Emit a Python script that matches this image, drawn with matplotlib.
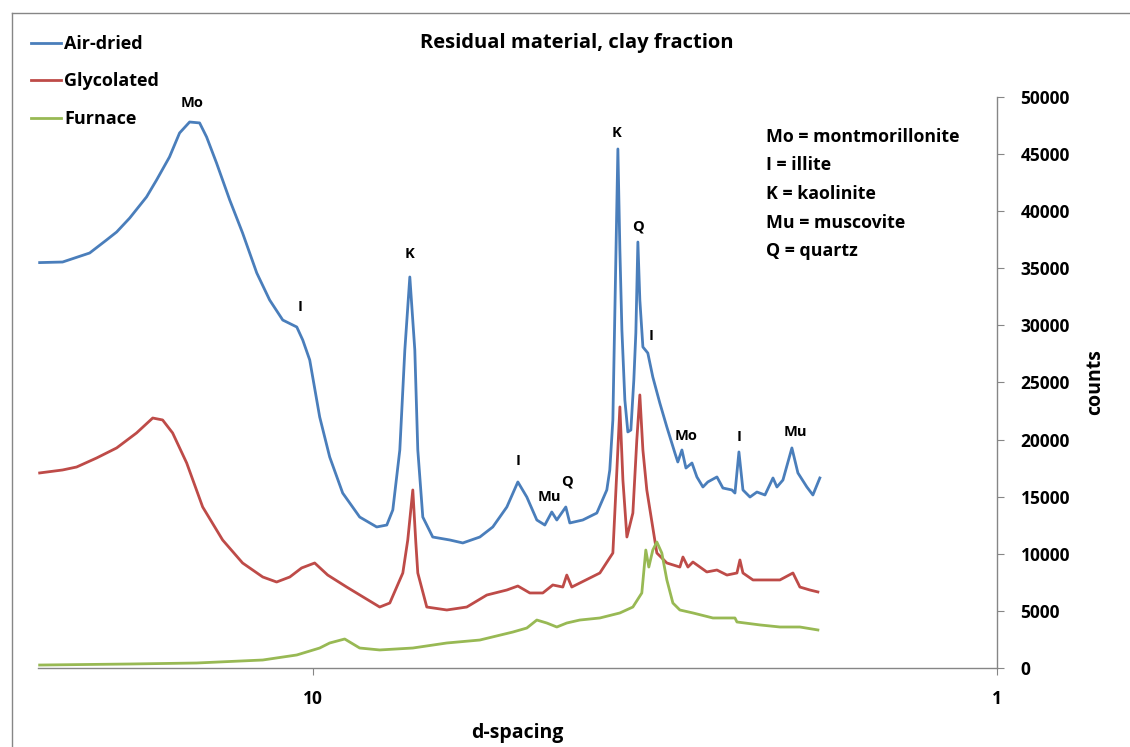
import matplotlib.pyplot as plt
from matplotlib.lines import Line2D

# d-spacing (Angstrom) and counts
air_d = [25.06, 23.20, 21.18, 20.01, 19.34, 18.51, 17.49, 16.91, 16.19, 15.65,
         15.13, 14.63, 14.29, 13.82, 13.22, 12.66, 12.07, 11.56, 11.06, 10.55,
         10.34, 10.10, 9.767, 9.444, 9.040, 8.537, 8.062, 7.793, 7.637, 7.459,
         7.334, 7.212, 7.092, 7.021, 6.904, 6.677, 6.304, 6.034, 5.698, 5.455,
         5.203, 5.014, 4.865, 4.704, 4.579, 4.473, 4.398, 4.267, 4.210, 4.030,
         3.844, 3.717, 3.680, 3.642, 3.606, 3.581, 3.557, 3.533, 3.498, 3.463,
         3.428, 3.394, 3.371, 3.348, 3.326, 3.292, 3.238, 3.184, 3.110, 3.037,
         2.956, 2.927, 2.887, 2.848, 2.791, 2.745, 2.690, 2.646, 2.566, 2.515,
         2.440, 2.415, 2.383, 2.351, 2.296, 2.243, 2.183, 2.125, 2.097, 2.055,
         1.994, 1.954, 1.896, 1.858, 1.815]
air_counts = [35500, 35550, 36340, 37480, 38180, 39400, 41250, 42730, 44750, 46850,
              47810, 47730, 46500, 44220, 40980, 38090, 34590, 32230, 30470, 29860,
              28720, 26970, 21980, 18480, 15320, 13220, 12350, 12520, 13840, 19090,
              27850, 34240, 27850, 19090, 13220, 11470, 11210, 10950, 11470, 12350,
              14100, 16290, 14970, 12960, 12520, 13660, 12960, 14100, 12700, 12960,
              13570, 15590, 17340, 21720, 35730, 45450, 36600, 29600, 23470, 20670,
              20840, 25220, 29340, 37300, 32230, 28110, 27580, 25480, 23210, 21100,
              18830, 18040, 19090, 17510, 17950, 16730, 15850, 16290, 16730, 15760,
              15590, 15320, 18920, 15590, 14970, 15410, 15150, 16640, 15850, 16460,
              19270, 17080, 15850, 15150, 16640]

gly_d = [25.06, 23.20, 22.13, 20.69, 19.34, 18.09, 17.13, 16.57, 16.02, 15.28,
         14.48, 13.54, 12.66, 11.83, 11.29, 10.80, 10.38, 9.933, 9.507, 8.919,
         7.981, 7.715, 7.384, 7.262, 7.140, 7.068, 7.021, 6.812, 6.368, 5.954,
         5.566, 5.203, 5.014, 4.816, 4.610, 4.458, 4.310, 4.253, 4.182, 4.071,
         3.805, 3.642, 3.593, 3.557, 3.521, 3.474, 3.405, 3.360, 3.326, 3.292,
         3.249, 3.141, 3.037, 2.907, 2.877, 2.829, 2.782, 2.655, 2.566, 2.481,
         2.399, 2.375, 2.351, 2.273, 2.169, 2.076, 1.987, 1.941, 1.877, 1.827]
gly_counts = [17080, 17340, 17600, 18390, 19270, 20580, 21890, 21720, 20580, 17950,
              14100, 11210, 9195, 7970, 7530, 7970, 8760, 9195, 8140, 7090,
              5340, 5690, 8320, 11210, 15590, 11000, 8320, 5340, 5080, 5340,
              6390, 6830, 7180, 6570, 6570, 7270, 7090, 8140, 7090, 7440,
              8320, 10070, 17340, 22860, 16460, 11470, 13570, 19970, 23910, 19090,
              15590, 10070, 9195, 8840, 9720, 8840, 9280, 8410, 8580, 8140,
              8320, 9460, 8320, 7710, 7710, 7710, 8320, 7090, 6830, 6660]

fur_d = [25.06, 18.51, 14.78, 11.83, 10.55, 9.767, 9.444, 8.979, 8.537, 7.981,
         7.140, 6.368, 5.698, 5.099, 4.865, 4.704, 4.549, 4.398, 4.253, 4.071,
         3.805, 3.557, 3.405, 3.304, 3.260, 3.227, 3.184, 3.141, 3.089, 3.037,
         2.976, 2.907, 2.782, 2.601, 2.415, 2.399, 2.220, 2.076, 1.941, 1.827]
fur_counts = [260, 350, 438, 700, 1140, 1750, 2190, 2540, 1750, 1580,
              1750, 2190, 2450, 3150, 3500, 4200, 3940, 3590, 3940, 4200,
              4380, 4820, 5340, 6570, 10330, 8840, 10330, 11030, 10070, 7710,
              5690, 5080, 4820, 4380, 4380, 4030, 3770, 3590, 3590, 3330]

# peak labels
peak_labels = ['Mo', 'I', 'K', 'I', 'Mu', 'Q', 'K', 'Q', 'I', 'Mo', 'I', 'Mu']
peak_d = [15.03, 10.45, 7.212, 5.014, 4.503, 4.253, 3.593, 3.348, 3.205, 2.848, 2.383, 1.974]
peak_y = [49480, 31610, 36250, 18130, 14970, 16290, 46850, 38620, 29070, 20320, 20230, 20670]

key_text = ('Mo = montmorillonite\nI = illite\nK = kaolinite\n'
            'Mu = muscovite\nQ = quartz')

plt.rcParams['font.family'] = ['Open Sans', 'DejaVu Sans']
plt.rcParams['font.weight'] = 'bold'

fig = plt.figure(figsize=(11.3, 7.47), dpi=100)
ax = fig.add_axes([38/1130, 1-668/747, 959/1130, 571/747])

ax.plot(air_d, air_counts, color='#4A7EBB', lw=2, label='Air-dried')
ax.plot(gly_d, gly_counts, color='#BE4B48', lw=2, label='Glycolated')
ax.plot(fur_d, fur_counts, color='#98B954', lw=2, label='Furnace')

ax.set_xscale('log')
ax.set_xlim(25.2, 1)
ax.set_ylim(0, 50000)
ax.set_xticks([10, 1])
ax.set_xticklabels(['10', '1'])
ax.minorticks_off()
ax.set_yticks(range(0, 50001, 5000))

ax.yaxis.tick_right()
ax.yaxis.set_label_position('right')
for s in ['left', 'top']:
    ax.spines[s].set_visible(False)
for s in ['bottom', 'right']:
    ax.spines[s].set_color('#868686')
    ax.spines[s].set_linewidth(1)
ax.tick_params(axis='x', length=5, color='#868686', pad=11, labelsize=12.5)
ax.tick_params(axis='y', length=5, color='#868686', pad=12, labelsize=12.5)

ax.set_xlabel('d-spacing', fontsize=14, fontweight='bold')
ax.xaxis.set_label_coords(0.5, -0.096)
ax.set_ylabel('counts', fontsize=14, fontweight='bold')
ax.yaxis.set_label_coords(1.092, 0.5)

for lab, d, y in zip(peak_labels, peak_d, peak_y):
    ax.text(d, y, lab, ha='center', va='center', fontsize=10.5, fontweight='bold')

fig.text(766/1130, 1-128/747, key_text, ha='left', va='top', fontsize=12.8,
         fontweight='bold', linespacing=1.75)

fig.text(577/1130, 1-43/747, 'Residual material, clay fraction', ha='center',
         va='center', fontsize=14.5, fontweight='bold')

ax.legend(loc='upper left', bbox_to_anchor=(31/1130, 1-35/747),
          bbox_transform=fig.transFigure, frameon=False, fontsize=13,
          handlelength=1.65, handletextpad=0.2, labelspacing=1.08,
          borderpad=0, borderaxespad=0)

# outer chart border (left and top edges visible)
fig.add_artist(Line2D([12/1130, 12/1130], [0, 1-13/747], color='#868686', lw=1))
fig.add_artist(Line2D([12/1130, 1], [1-13/747, 1-13/747], color='#868686', lw=1))

plt.savefig('out.png', dpi=100)
